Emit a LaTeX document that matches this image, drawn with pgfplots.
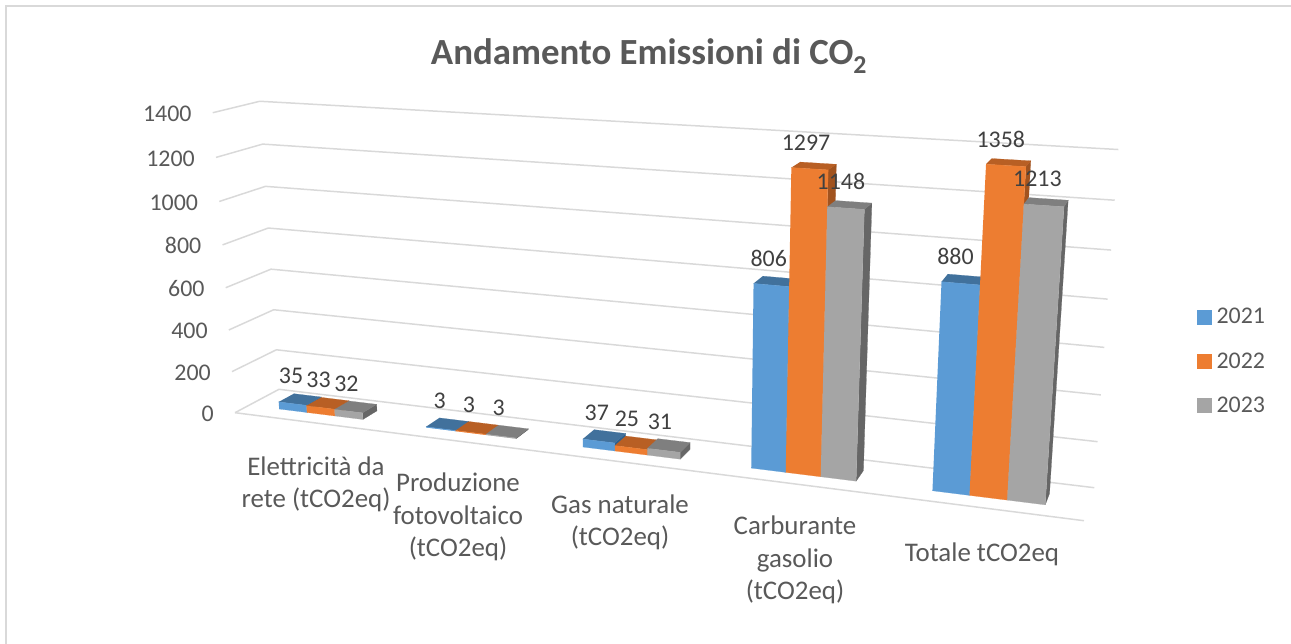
\documentclass[border=0pt]{standalone}
\usepackage{fontspec}
\setmainfont{Carlito}
\usepackage{pgfplots}
\usepackage{pgfplotstable}
\pgfplotsset{compat=1.18}
\definecolor{gridc}{HTML}{D9D9D9}
\definecolor{lab}{HTML}{595959}
\definecolor{dlab}{HTML}{404040}
\definecolor{bF}{HTML}{5B9BD5}\definecolor{bT}{HTML}{41719C}\definecolor{bS}{HTML}{2F5F8C}
\definecolor{oF}{HTML}{ED7D31}\definecolor{oT}{HTML}{B85F24}\definecolor{oS}{HTML}{A1531F}
\definecolor{gF}{HTML}{A5A5A5}\definecolor{gT}{HTML}{7F7F7F}\definecolor{gS}{HTML}{666666}
% value tables: centre of the bar on the category axis (0..1), value
\pgfplotstableread{
u v value
0.0618 0.485 35
0.2625 0.485 3
0.4618 0.485 37
0.6618 0.485 806
0.8605 0.485 880
}\seriesA
\pgfplotstableread{
u v value
0.1 0.485 33
0.3005 0.485 3
0.4985 0.485 25
0.7 0.485 1297
0.9 0.485 1358
}\seriesB
\pgfplotstableread{
u v value
0.1382 0.485 32
0.3390 0.485 3
0.5382 0.485 31
0.7382 0.485 1148
0.9382 0.485 1213
}\seriesC
\pgfplotstableread{
u v value
0 0 0
0 0 200
0 0 400
0 0 600
0 0 800
0 0 1000
0 0 1200
0 0 1400
}\ticksT
% one bar: left edge, right edge, value, colours
\newcommand{\barbox}[6]{%
  \addplot[fill=#6,draw=#6,line width=.2pt] table[row sep=\\,x expr={ppx(\thisrow{u},\thisrow{v},\thisrow{w})},y expr={ppy(\thisrow{u},\thisrow{v},\thisrow{w})}]
   {u v w\\ #2 0.31 0\\ #2 0.66 0\\ #2 0.66 #3\\ #2 0.31 #3\\};
  \addplot[fill=#5,draw=#5,line width=.2pt] table[row sep=\\,x expr={ppx(\thisrow{u},\thisrow{v},\thisrow{w})},y expr={ppy(\thisrow{u},\thisrow{v},\thisrow{w})}]
   {u v w\\ #1 0.31 #3\\ #2 0.31 #3\\ #2 0.66 #3\\ #1 0.66 #3\\};
  \addplot[fill=#4,draw=#4,line width=.2pt] table[row sep=\\,x expr={ppx(\thisrow{u},\thisrow{v},\thisrow{w})},y expr={ppy(\thisrow{u},\thisrow{v},\thisrow{w})}]
   {u v w\\ #1 0.31 0\\ #2 0.31 0\\ #2 0.31 #3\\ #1 0.31 #3\\};
}
\newcommand{\gridl}[1]{%
  \addplot[gridc,line width=1.5pt] table[row sep=\\,x expr={ppx(\thisrow{u},\thisrow{v},\thisrow{w})},y expr={ppy(\thisrow{u},\thisrow{v},\thisrow{w})}]
   {u v w\\ 0 0 #1\\ 0 1 #1\\ 1 1 #1\\};
}
\begin{document}
\begin{tikzpicture}[declare function={
  pdn(\u,\v,\w)=1-0.16156*\u+0.04338*\v-0.048*\w/1400;
  ppx(\u,\v,\w)=(235+673.87*\u+56.10*\v-32.5*\w/1400)/pdn(\u,\v,\w);
  ppy(\u,\v,\w)=(412.7+23.88*\u-6.51*\v-305.4*\w/1400)/pdn(\u,\v,\w);
}]
\useasboundingbox (0,0) rectangle (1291bp,644bp);
\begin{axis}[
  at={(0,0)},anchor=south west,
  scale only axis,width=1291bp,height=644bp,
  xmin=0,xmax=1291,ymin=0,ymax=644,y dir=reverse,hide axis,clip=false,
  legend style={at={(axis cs:1197,306)},anchor=north west,draw=none,fill=none,font=\fontsize{24}{28}\selectfont,text=lab,row sep=23.5bp,inner sep=0pt},
  legend cell align=left,
]
\addlegendimage{legend image code/.code={\fill[bF] (0bp,-7bp) rectangle (14bp,7bp);}}
\addlegendentry{\hspace{3bp}2021}
\addlegendimage{legend image code/.code={\fill[oF] (0bp,-7bp) rectangle (14bp,7bp);}}
\addlegendentry{\hspace{3bp}2022}
\addlegendimage{legend image code/.code={\fill[gF] (0bp,-7bp) rectangle (14bp,7bp);}}
\addlegendentry{\hspace{3bp}2023}
\pgfplotsset{every axis plot/.append style={forget plot}}
% chart frame
\addplot[gridc,line width=1.6pt] coordinates {(6,644) (6,6) (1291,6)};
\gridl{0}\gridl{200}\gridl{400}\gridl{600}\gridl{800}\gridl{1000}\gridl{1200}\gridl{1400}
\addplot[gridc,line width=1.5pt] table[row sep=\\,x expr={ppx(\thisrow{u},\thisrow{v},\thisrow{w})},y expr={ppy(\thisrow{u},\thisrow{v},\thisrow{w})}]
   {u v w\\ 0 0 0\\ 1 0 0\\};
% bars: category 1..5, series 2021, 2022, 2023
\barbox{0.0425}{0.0810}{35}{bF}{bT}{bS}\barbox{0.0810}{0.1195}{33}{oF}{oT}{oS}\barbox{0.1195}{0.1575}{32}{gF}{gT}{gS}
\barbox{0.2415}{0.2802}{3}{bF}{bT}{bS}\barbox{0.2802}{0.3190}{3}{oF}{oT}{oS}\barbox{0.3190}{0.3575}{3}{gF}{gT}{gS}
\barbox{0.4405}{0.4795}{37}{bF}{bT}{bS}\barbox{0.4795}{0.5185}{25}{oF}{oT}{oS}\barbox{0.5185}{0.5575}{31}{gF}{gT}{gS}
\barbox{0.6400}{0.6792}{806}{bF}{bT}{bS}\barbox{0.6792}{0.7184}{1297}{oF}{oT}{oS}\barbox{0.7184}{0.7575}{1148}{gF}{gT}{gS}
\barbox{0.8400}{0.8792}{880}{bF}{bT}{bS}\barbox{0.8792}{0.9184}{1358}{oF}{oT}{oS}\barbox{0.9184}{0.9575}{1213}{gF}{gT}{gS}
% data labels
\pgfplotsset{dl/.style={draw=none,mark=none,point meta=explicit symbolic,nodes near coords={\pgfplotspointmeta},
  nodes near coords style={anchor=center,xshift=-9bp,yshift=23.5bp,text=dlab,font=\fontsize{24}{28}\selectfont,inner sep=0pt}}}
\addplot[dl] table[x expr={ppx(\thisrow{u},\thisrow{v},\thisrow{value})},y expr={ppy(\thisrow{u},\thisrow{v},\thisrow{value})},meta=value] {\seriesA};
\addplot[dl] table[x expr={ppx(\thisrow{u},\thisrow{v},\thisrow{value})},y expr={ppy(\thisrow{u},\thisrow{v},\thisrow{value})},meta=value] {\seriesB};
\addplot[dl] table[x expr={ppx(\thisrow{u},\thisrow{v},\thisrow{value})},y expr={ppy(\thisrow{u},\thisrow{v},\thisrow{value})},meta=value] {\seriesC};
% value axis labels
\addplot[draw=none,mark=none,point meta=explicit symbolic,nodes near coords={\pgfplotspointmeta},
  nodes near coords style={anchor=east,xshift=-21bp,yshift=-1bp,text=lab,font=\fontsize{24}{28}\selectfont,inner sep=0pt}]
  table[x expr={ppx(\thisrow{u},\thisrow{v},\thisrow{value})},y expr={ppy(\thisrow{u},\thisrow{v},\thisrow{value})},meta=value] {\ticksT};
% text
\node[font=\fontsize{37}{44}\selectfont\bfseries,text=lab,inner sep=0pt] at (axis cs:649,56) {Andamento Emissioni di CO\textsubscript{2}};
\tikzset{cat/.style={font=\fontsize{27}{32.5}\selectfont,text=lab,align=center,inner sep=0pt}}
\node[cat] at (axis cs:316,484.5) {Elettricità da\\rete (tCO2eq)};
\node[cat] at (axis cs:458,517) {Produzione\\fotovoltaico\\(tCO2eq)};
\node[cat] at (axis cs:620,522.5) {Gas naturale\\(tCO2eq)};
\node[cat] at (axis cs:795,560) {Carburante\\gasolio\\(tCO2eq)};
\node[cat] at (axis cs:982,554) {Totale tCO2eq};
\end{axis}
\end{tikzpicture}
\end{document}
